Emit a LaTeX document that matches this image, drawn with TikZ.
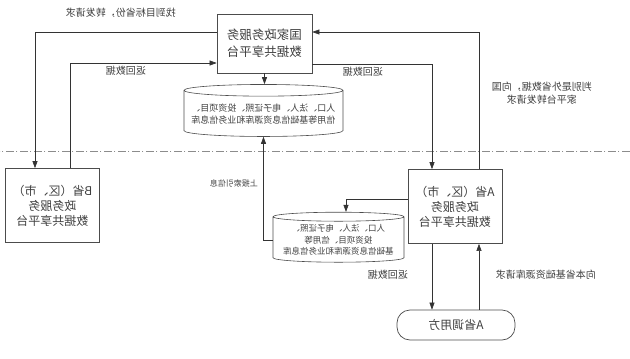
\documentclass[tikz,border=0pt]{standalone}
\usepackage{fontspec}
\setmainfont{Noto Sans CJK SC}
\usetikzlibrary{arrows.meta,shapes.geometric}

\begin{document}
\begin{tikzpicture}[
  x=1pt, y=-1pt, xscale=-1,
  every node/.append style={transform shape, text=black!75},
  box/.style  = {draw=black!70, line width=0.7pt, align=center, inner sep=2pt,
                 font=\fontsize{12}{15}\selectfont},
  plat/.style = {box, minimum width=94pt, minimum height=74pt},
  db/.style   = {draw=black!70, line width=0.6pt, cylinder, shape border rotate=90,
                 cylinder uses custom fill=false, aspect=0.08, align=center,
                 inner sep=1pt},
  ar/.style   = {-{Triangle[length=7pt,width=5pt]}, draw=black!80, line width=0.6pt},
  lbl/.style  = {font=\fontsize{10}{13}\selectfont, inner sep=1pt, align=center},
  sep/.style  = {draw=black!45, line width=0.6pt,
                 dash pattern=on 8pt off 2.5pt on 1pt off 2.5pt},
]
  \useasboundingbox (0,0) rectangle (630,359);

  % ---- national platform --------------------------------------
  \node[box, minimum width=95pt, minimum height=59pt,
        font=\fontsize{12.5}{17}\selectfont] (nat) at (365.5, 43.5)
        {国家政务服务\\数据共享平台};
  \node[db, minimum width=159pt, minimum height=52pt,
        font=\fontsize{9}{12}\selectfont] (dbN) at (366.5, 114)
        {人口、法人、电子证照、投资项目、\\信用等基础信息资源库和业务信息库};

  % ---- province boundary --------------------------------------
  \draw[sep] (0,151) -- (630,151);

  % ---- provincial platforms -----------------------------------
  \node[plat] (bB) at (577.5, 205.5) {B省（区、市）\\政务服务\\数据共享平台};
  \node[plat] (aA) at (175, 206.5) {A省（区、市）\\政务服务\\数据共享平台};
  \node[db, minimum width=131pt, minimum height=50pt,
        font=\fontsize{8.5}{11.5}\selectfont] (dbA) at (291.5, 240)
        {人口、法人、电子证照、\\投资项目、信用等\\基础信息资源库和业务信息库};
  \node[box, rounded corners=13pt, minimum width=118pt, minimum height=30pt]
        (caller) at (174, 325) {A省调用方};

  % ---- national <-> B ------------------------------------------
  \draw[ar] (nat.east |- 0,32) -| (595,0 |- bB.north);
  \draw[ar] (560,0 |- bB.north) |- (nat.east |- 0,63);
  \node[lbl] at (509, 13) {找到目标省份，转发请求};
  \node[lbl] at (504, 71) {返回数据};

  % ---- national <-> A ------------------------------------------
  \draw[ar] (151,0 |- aA.north) |- (nat.west |- 0,32);
  \draw[ar] (nat.west |- 0,64) -| (198,0 |- aA.north);
  \node[lbl] at (88, 93) {判别是外省数据，向国\\家平台转发请求};
  \node[lbl] at (267, 72) {返回数据};

  % ---- resource libraries -------------------------------------
  \draw[ar] (nat.south) -- (nat.south |- dbN.north);
  \draw[ar] (dbA.east) -| (dbN.south);
  \draw[ar] (aA.east |- 0,199) -| (284,0 |- dbA.north);
  \node[lbl, font=\fontsize{8}{10}\selectfont] at (396, 183) {上报索引信息};

  % ---- A caller ------------------------------------------------
  \draw[ar] (198,0 |- aA.south) -- (198,0 |- caller.north);
  \draw[ar] (151,0 |- caller.north) -- (151,0 |- aA.south);
  \node[lbl] at (242, 275) {返回数据};
  \node[lbl] at (84, 275) {向本省基础资源库请求};

\end{tikzpicture}
\end{document}
